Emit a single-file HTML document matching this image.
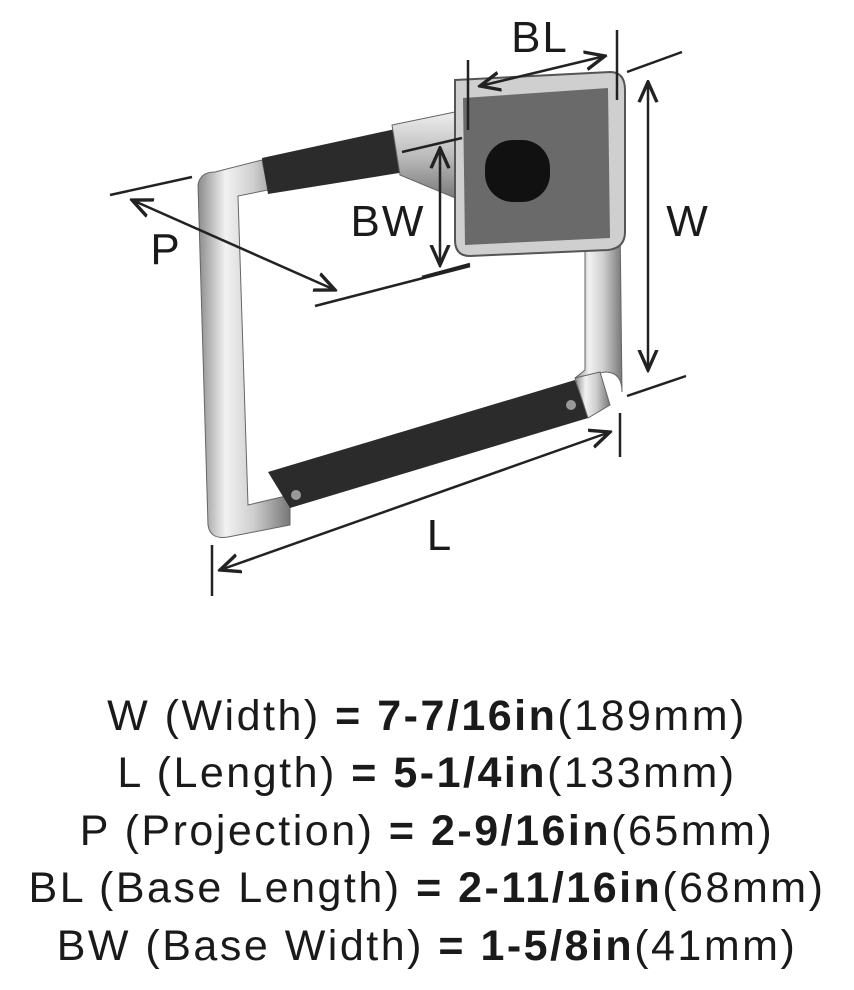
<!DOCTYPE html>
<html><head><meta charset="utf-8"><style>
body{margin:0;background:#fff;width:854px;height:990px;overflow:hidden;font-family:"Liberation Sans",sans-serif}
.t{position:absolute;left:0;width:854px;text-align:center;font-size:43px;letter-spacing:2.5px;color:#1a1a1a;line-height:1;white-space:nowrap}
.t b{font-weight:700}
</style></head><body>
<svg width="854" height="640" style="position:absolute;left:0;top:0">
<defs>
<linearGradient id="chr" x1="0" x2="1" y1="0" y2="0"><stop offset="0" stop-color="#8a8a8a"/><stop offset=".3" stop-color="#f2f2f2"/><stop offset=".6" stop-color="#cfcfcf"/><stop offset="1" stop-color="#777"/></linearGradient>
<linearGradient id="chr2" x1="0" x2="0" y1="0" y2="1"><stop offset="0" stop-color="#eee"/><stop offset=".5" stop-color="#bbb"/><stop offset="1" stop-color="#777"/></linearGradient>
<marker id="a" viewBox="0 0 10 10" refX="9" refY="5" markerWidth="9" markerHeight="9" orient="auto-start-reverse"><path d="M0,1 L9,5 L0,9" fill="none" stroke="#222" stroke-width="1.5"/></marker>
</defs>
<path d="M198,185 Q200,172 215,172 L262,160 L268,190 L238,196 L248,505 L290,495 L290,525 L228,537 Q210,540 208,525 Z" fill="url(#chr)" stroke="#666" stroke-width="1"/>
<path d="M262,158 L400,128 L405,172 L268,194 Z" fill="#2b2b2b"/>
<path d="M268,472 L575,380 L588,418 L290,508 Z" fill="#2b2b2b"/>
<path d="M575,378 L605,372 Q622,372 622,392 L620,220 L585,225 L585,370 Z" fill="url(#chr)" stroke="#666"/>
<path d="M575,378 L600,372 L610,405 L588,418 Z" fill="url(#chr)" stroke="#666"/>
<path d="M392,125 L455,112 L460,200 L400,175 Z" fill="url(#chr2)" stroke="#666"/>
<path d="M470,108 L580,88 L585,120 L470,130 Z" fill="#2b2b2b"/>
<path d="M455,80 L610,72 Q625,72 625,90 L625,232 Q625,248 608,250 L470,256 Q455,256 455,240 Z" fill="#cfcfcf" stroke="#555" stroke-width="2"/>
<path d="M463,98 L608,88 L610,238 L465,245 Z" fill="#6a6a6a"/>
<rect x="485" y="140" width="65" height="62" rx="28" fill="#111"/>
<circle cx="296" cy="495" r="5" fill="#999"/><circle cx="571" cy="405" r="5" fill="#999"/>
<g stroke="#222" stroke-width="2.5" fill="none">
<line x1="480" y1="86" x2="605" y2="56" marker-start="url(#a)" marker-end="url(#a)"/>
<line x1="468" y1="60" x2="468" y2="130"/><line x1="617" y1="30" x2="617" y2="100"/>
<line x1="648" y1="82" x2="648" y2="370" marker-start="url(#a)" marker-end="url(#a)"/>
<line x1="627" y1="72" x2="682" y2="52"/><line x1="627" y1="396" x2="686" y2="376"/>
<line x1="440" y1="148" x2="440" y2="265" marker-start="url(#a)" marker-end="url(#a)"/>
<line x1="402" y1="152" x2="462" y2="138"/><line x1="422" y1="277" x2="470" y2="264"/>
<line x1="132" y1="200" x2="335" y2="290" marker-start="url(#a)" marker-end="url(#a)"/>
<line x1="110" y1="195" x2="192" y2="177"/><line x1="315" y1="306" x2="470" y2="266"/>
<line x1="220" y1="570" x2="610" y2="432" marker-start="url(#a)" marker-end="url(#a)"/>
<line x1="212" y1="545" x2="212" y2="596"/><line x1="620" y1="413" x2="620" y2="457"/>
</g>
<g font-family="Liberation Sans" font-size="44" fill="#1a1a1a" text-anchor="middle" letter-spacing="2">
<text x="540" y="52">BL</text><text x="688" y="236">W</text><text x="388" y="236">BW</text><text x="166" y="264">P</text><text x="440" y="550">L</text>
</g>
</svg>
<div class="t" style="top:695px">W (Width) <b>=</b> <b>7-7/16in</b>(189mm)</div>
<div class="t" style="top:752px">L (Length) <b>=</b> <b>5-1/4in</b>(133mm)</div>
<div class="t" style="top:810px">P (Projection) <b>=</b> <b>2-9/16in</b>(65mm)</div>
<div class="t" style="top:867px">BL (Base Length) <b>=</b> <b>2-11/16in</b>(68mm)</div>
<div class="t" style="top:925px">BW (Base Width) <b>=</b> <b>1-5/8in</b>(41mm)</div>
</body></html>
